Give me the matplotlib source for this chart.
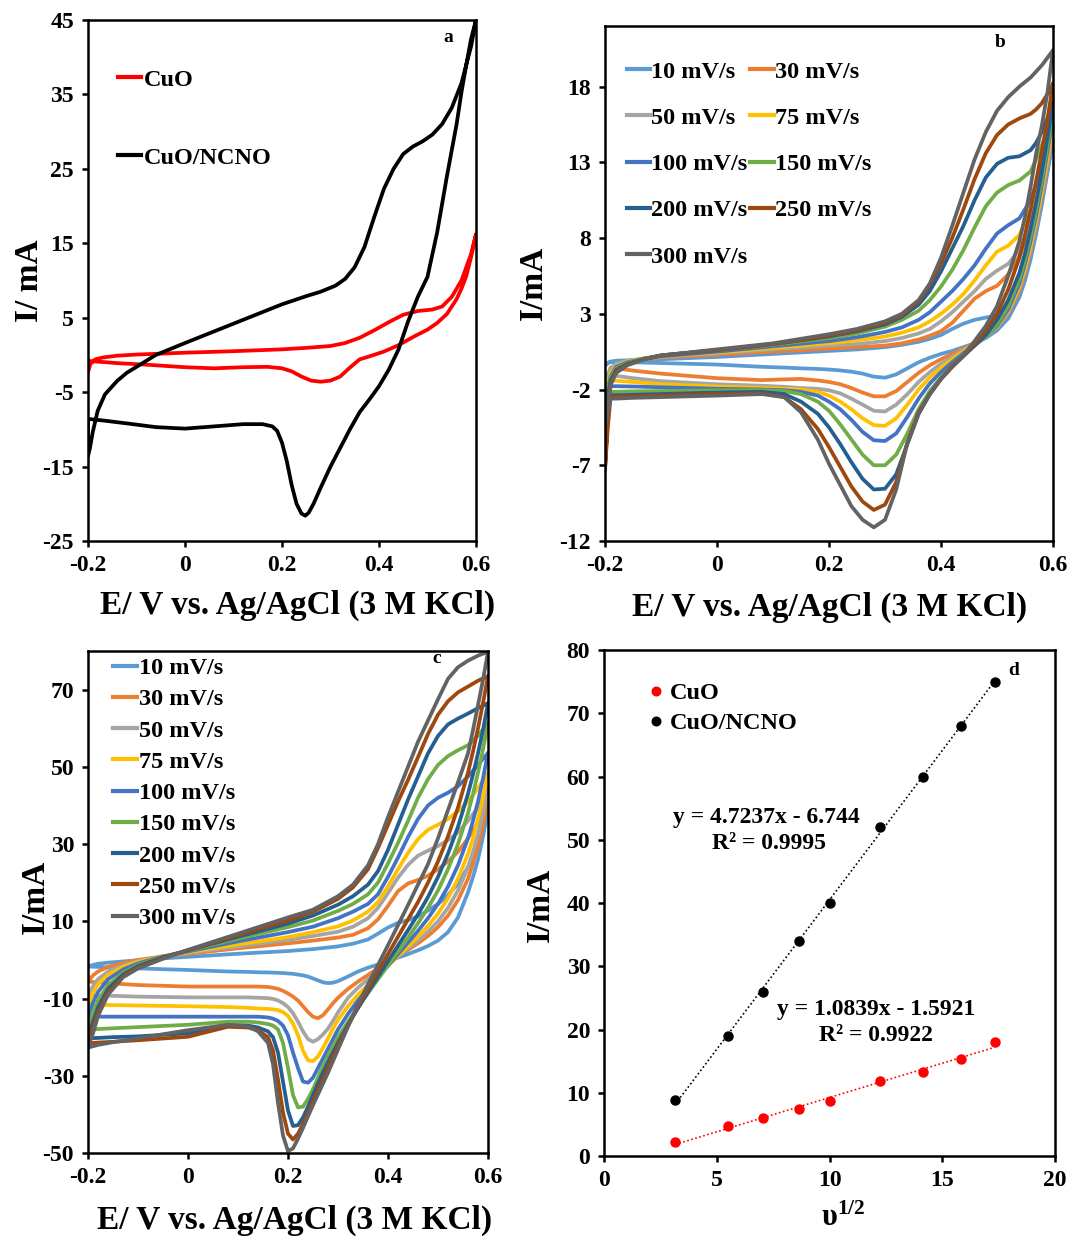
import matplotlib
matplotlib.use("Agg")
import matplotlib.pyplot as plt
from matplotlib.lines import Line2D

plt.rcParams["font.family"] = ["Liberation Serif", "DejaVu Serif"]
plt.rcParams["font.weight"] = "bold"
plt.rcParams["mathtext.fontset"] = "custom"
plt.rcParams["mathtext.rm"] = "Liberation Serif:bold"
plt.rcParams["mathtext.it"] = "Liberation Serif:bold"
plt.rcParams["mathtext.bf"] = "Liberation Serif:bold"

# ------------------------------------------------------------------
# (a) CuO vs CuO/NCNO cyclic voltammograms (E in V, I in mA)
# ------------------------------------------------------------------
ncno_fwd_E = [-0.2, -0.196, -0.19, -0.18, -0.165, -0.14, -0.12, -0.09, -0.06, 0.0,
              0.05, 0.1, 0.15, 0.2, 0.25, 0.28, 0.31, 0.33, 0.35, 0.37,
              0.39, 0.41, 0.43, 0.45, 0.47, 0.49, 0.51, 0.53, 0.55, 0.57, 0.59, 0.6]
ncno_fwd_I = [-13.6, -12.5, -10.3, -7.5, -5.3, -3.5, -2.4, -1.2, 0.0, 1.6,
              2.9, 4.2, 5.5, 6.8, 7.9, 8.5, 9.3, 10.2, 11.8, 14.5,
              18.5, 22.3, 25.0, 27.0, 28.0, 28.7, 29.6, 31.0, 33.2, 36.5, 41.5, 45.0]
ncno_rev_E = [0.6, 0.59, 0.58, 0.57, 0.56, 0.55, 0.54, 0.52, 0.5, 0.48,
              0.46, 0.44, 0.42, 0.4, 0.38, 0.36, 0.34, 0.32, 0.3, 0.28,
              0.265, 0.255, 0.248, 0.24, 0.23, 0.22, 0.21, 0.2, 0.19, 0.18,
              0.16, 0.12, 0.06, 0.0, -0.06, -0.12, -0.17, -0.2]
ncno_rev_I = [45.0, 42.5, 39.0, 35.3, 31.0, 27.5, 24.0, 16.5, 10.5, 7.8,
              4.5, 0.7, -2.0, -4.2, -6.0, -7.7, -10.0, -12.5, -15.0, -17.8,
              -20.0, -21.2, -21.6, -21.3, -20.0, -17.5, -14.3, -11.8, -10.2, -9.6,
              -9.3, -9.3, -9.6, -9.9, -9.7, -9.2, -8.8, -8.6]

cuo_fwd_E = [-0.2, -0.195, -0.185, -0.17, -0.14, -0.1, 0.0, 0.1, 0.2, 0.25,
             0.3, 0.33, 0.36, 0.39, 0.42, 0.45, 0.48, 0.51, 0.53, 0.55, 0.57, 0.59, 0.6]
cuo_fwd_I = [-2.3, -1.2, -0.6, -0.35, -0.1, 0.05, 0.3, 0.5, 0.75, 0.95,
             1.2, 1.6, 2.3, 3.3, 4.4, 5.4, 5.9, 6.1, 6.5, 7.8, 10.0, 13.6, 16.2]
cuo_rev_E = [0.6, 0.59, 0.58, 0.57, 0.56, 0.54, 0.52, 0.5, 0.47, 0.44,
             0.41, 0.38, 0.36, 0.34, 0.32, 0.3, 0.28, 0.26, 0.24, 0.22,
             0.2, 0.17, 0.12, 0.06, 0.0, -0.07, -0.14, -0.18, -0.2]
cuo_rev_I = [16.2, 13.2, 10.6, 8.9, 7.5, 5.5, 4.3, 3.4, 2.4, 1.3,
             0.45, -0.2, -0.6, -1.7, -2.9, -3.45, -3.6, -3.45, -2.9, -2.2,
             -1.8, -1.6, -1.65, -1.8, -1.65, -1.35, -1.1, -0.9, -0.8]

# ------------------------------------------------------------------
# Scan-rate series shared by (b) and (c)
# ------------------------------------------------------------------
rate_labels = ["10 mV/s", "30 mV/s", "50 mV/s", "75 mV/s", "100 mV/s",
               "150 mV/s", "200 mV/s", "250 mV/s", "300 mV/s"]
rate_colors = ["#5B9BD5", "#ED7D31", "#A5A5A5", "#FFC000", "#4472C4",
               "#70AD47", "#255E91", "#9E480E", "#636363"]

# (b) CuO at different scan rates
b_fwd_E = [-0.2, -0.195, -0.19, -0.18, -0.16, -0.13, -0.1, 0.0, 0.1, 0.2,
           0.25, 0.3, 0.33, 0.36, 0.38, 0.4, 0.42, 0.44, 0.46, 0.48,
           0.5, 0.52, 0.54, 0.56, 0.57, 0.58, 0.59, 0.6]
b_fwd_10 = [-0.4, -0.25, -0.15, -0.1, -0.07, -0.03, 0.0, 0.15, 0.35, 0.55,
            0.65, 0.8, 0.95, 1.15, 1.35, 1.6, 2.0, 2.35, 2.6, 2.75,
            2.9, 3.5, 5.0, 7.5, 9.0, 10.8, 12.6, 14.5]
b_fwd_30 = [-3.0, -1.5, -0.8, -0.4, -0.15, 0.0, 0.1, 0.3, 0.5, 0.7,
            0.8, 0.9, 1.05, 1.3, 1.55, 1.85, 2.4, 3.2, 4.0, 4.5,
            4.85, 5.6, 6.8, 8.7, 10.0, 11.5, 13.2, 15.0]
b_fwd_50 = [-1.8, -1.0, -0.6, -0.3, -0.1, 0.05, 0.15, 0.4, 0.65, 0.9,
            1.0, 1.2, 1.4, 1.7, 2.0, 2.5, 3.1, 3.8, 4.5, 5.3,
            5.85, 6.3, 7.2, 9.0, 10.3, 11.8, 13.5, 15.3]
b_fwd_75 = [-3.0, -1.6, -0.9, -0.45, -0.15, 0.05, 0.2, 0.45, 0.75, 1.05,
            1.25, 1.5, 1.75, 2.1, 2.5, 3.0, 3.6, 4.3, 5.2, 6.2,
            7.1, 7.5, 8.2, 9.8, 11.0, 12.4, 14.0, 15.6]
b_fwd_100 = [-4.0, -2.0, -1.1, -0.5, -0.2, 0.05, 0.2, 0.5, 0.85, 1.2,
             1.45, 1.8, 2.1, 2.6, 3.1, 3.8, 4.5, 5.3, 6.2, 7.3,
             8.3, 8.85, 9.3, 10.5, 11.6, 12.9, 14.4, 16.0]
b_fwd_150 = [-3.5, -2.0, -1.2, -0.6, -0.25, 0.05, 0.25, 0.6, 0.95, 1.4,
             1.7, 2.15, 2.6, 3.2, 3.9, 4.8, 5.9, 7.2, 8.7, 10.1,
             11.0, 11.5, 11.8, 12.4, 13.2, 14.1, 15.2, 16.4]
b_fwd_200 = [-4.5, -2.5, -1.4, -0.7, -0.3, 0.0, 0.25, 0.6, 1.0, 1.5,
             1.85, 2.3, 2.8, 3.6, 4.5, 5.8, 7.3, 8.8, 10.5, 12.0,
             12.9, 13.3, 13.4, 13.8, 14.3, 15.0, 15.9, 17.0]
b_fwd_250 = [-7.3, -3.5, -1.6, -0.8, -0.35, 0.0, 0.25, 0.6, 1.0, 1.55,
             1.9, 2.4, 2.9, 3.8, 4.9, 6.3, 8.0, 9.9, 11.9, 13.6,
             14.8, 15.5, 15.9, 16.2, 16.5, 16.9, 17.5, 18.2]
b_fwd_300 = [-4.5, -2.8, -1.7, -0.9, -0.4, 0.0, 0.25, 0.65, 1.05, 1.65,
             2.0, 2.5, 3.0, 3.9, 5.0, 6.7, 8.8, 11.0, 13.2, 15.0,
             16.4, 17.3, 18.0, 18.6, 19.0, 19.4, 19.9, 20.4]

b_rev_E = [0.6, 0.59, 0.58, 0.57, 0.56, 0.55, 0.54, 0.52, 0.5, 0.48,
           0.46, 0.44, 0.42, 0.4, 0.38, 0.36, 0.34, 0.32, 0.3, 0.28,
           0.26, 0.24, 0.22, 0.2, 0.18, 0.15, 0.12, 0.08, 0.0, -0.1,
           -0.15, -0.18, -0.19, -0.195, -0.2]
b_rev_10 = [14.5, 12.3, 10.2, 8.3, 6.6, 5.2, 4.1, 2.7, 1.9, 1.4,
            1.05, 0.8, 0.55, 0.35, 0.1, -0.2, -0.6, -1.0, -1.22, -1.15,
            -0.95, -0.82, -0.74, -0.68, -0.64, -0.6, -0.55, -0.5, -0.35, -0.25,
            -0.2, -0.18, -0.18, -0.25, -0.4]
b_rev_30 = [15.0, 12.8, 10.7, 8.8, 7.1, 5.7, 4.5, 3.0, 2.1, 1.5,
            1.05, 0.7, 0.35, 0.0, -0.4, -0.9, -1.5, -2.1, -2.45, -2.45,
            -2.2, -1.9, -1.65, -1.5, -1.4, -1.3, -1.33, -1.38, -1.25, -0.95,
            -0.75, -0.6, -0.55, -1.5, -3.0]
b_rev_50 = [15.3, 13.0, 10.9, 9.0, 7.3, 5.9, 4.7, 3.1, 2.1, 1.5,
            1.0, 0.6, 0.15, -0.3, -0.85, -1.5, -2.3, -3.0, -3.45, -3.4,
            -3.0, -2.6, -2.25, -2.05, -1.95, -1.9, -1.82, -1.75, -1.65, -1.45,
            -1.25, -1.1, -1.05, -1.5, -1.8]
b_rev_75 = [15.6, 13.3, 11.1, 9.2, 7.5, 6.0, 4.8, 3.2, 2.15, 1.5,
            1.0, 0.5, 0.0, -0.55, -1.2, -2.0, -3.0, -3.9, -4.4, -4.35,
            -3.9, -3.3, -2.8, -2.4, -2.15, -2.0, -1.95, -1.9, -1.8, -1.65,
            -1.5, -1.42, -1.4, -2.2, -3.0]
b_rev_100 = [16.0, 13.7, 11.5, 9.5, 7.8, 6.3, 5.0, 3.3, 2.2, 1.5,
             0.95, 0.4, -0.2, -0.85, -1.6, -2.6, -3.8, -4.9, -5.4, -5.35,
             -4.8, -4.0, -3.3, -2.8, -2.4, -2.15, -2.05, -2.0, -1.95, -1.85,
             -1.8, -1.78, -1.78, -2.8, -4.0]
b_rev_150 = [16.4, 14.1, 11.9, 9.9, 8.1, 6.6, 5.3, 3.5, 2.3, 1.5,
             0.9, 0.3, -0.4, -1.2, -2.1, -3.3, -4.9, -6.3, -7.0, -7.0,
             -6.3, -5.3, -4.3, -3.4, -2.8, -2.3, -2.1, -2.05, -2.05, -2.1,
             -2.12, -2.15, -2.15, -2.8, -3.5]
b_rev_200 = [17.0, 14.6, 12.4, 10.4, 8.6, 7.0, 5.7, 3.9, 2.6, 1.6,
             0.9, 0.2, -0.5, -1.3, -2.3, -3.6, -5.6, -7.6, -8.55, -8.6,
             -7.9, -6.8, -5.6, -4.5, -3.6, -2.8, -2.3, -2.15, -2.2, -2.3,
             -2.35, -2.37, -2.37, -3.3, -4.5]
b_rev_250 = [18.2, 15.8, 13.7, 11.8, 9.9, 8.2, 6.7, 4.6, 3.0, 1.9,
             1.0, 0.25, -0.5, -1.3, -2.3, -3.5, -5.5, -8.1, -9.6, -9.95,
             -9.4, -8.4, -7.1, -5.8, -4.6, -3.3, -2.5, -2.25, -2.3, -2.4,
             -2.45, -2.48, -2.5, -4.5, -7.3]
b_rev_300 = [20.4, 17.6, 15.4, 13.6, 11.4, 9.4, 7.8, 5.5, 3.5, 2.2,
             1.2, 0.25, -0.4, -1.3, -2.3, -3.6, -5.5, -8.6, -10.6, -11.1,
             -10.6, -9.7, -8.3, -6.9, -5.3, -3.5, -2.5, -2.3, -2.4, -2.5,
             -2.55, -2.6, -2.6, -3.5, -4.5]

# (c) CuO/NCNO at different scan rates
c_fwd_E = [-0.2, -0.19, -0.18, -0.16, -0.13, -0.1, -0.05, 0.0, 0.1, 0.2,
           0.25, 0.3, 0.33, 0.36, 0.38, 0.4, 0.42, 0.44, 0.46, 0.48,
           0.5, 0.52, 0.54, 0.56, 0.58, 0.6]
c_fwd_10 = [-1.7, -1.3, -1.0, -0.7, -0.4, -0.1, 0.4, 0.8, 1.6, 2.3,
            2.8, 3.5, 4.2, 5.3, 6.8, 8.4, 9.6, 10.3, 11.3, 12.8,
            14.5, 16.8, 19.8, 24.0, 30.0, 39.0]
c_fwd_30 = [-5.6, -4.0, -3.0, -1.8, -0.8, 0.0, 0.9, 1.6, 3.0, 4.3,
            5.0, 5.8, 6.5, 8.2, 10.5, 14.0, 17.8, 19.8, 20.7, 21.8,
            23.5, 25.5, 28.0, 31.5, 35.5, 41.5]
c_fwd_50 = [-9.1, -6.8, -5.0, -3.0, -1.4, -0.3, 0.9, 1.8, 3.5, 5.2,
            6.2, 7.3, 8.6, 10.8, 13.5, 17.3, 21.3, 24.6, 27.0, 28.3,
            29.5, 31.0, 33.0, 36.0, 39.5, 44.5]
c_fwd_75 = [-11.6, -8.5, -6.3, -3.8, -1.8, -0.5, 0.9, 2.0, 4.0, 5.9,
            7.2, 8.7, 10.2, 12.5, 15.0, 19.0, 23.5, 27.7, 31.3, 33.7,
            35.0, 36.5, 38.5, 41.0, 44.5, 48.4]
c_fwd_100 = [-14.7, -11.0, -8.3, -5.0, -2.5, -0.9, 0.9, 2.2, 4.8, 7.2,
             8.6, 10.8, 12.5, 14.5, 17.0, 21.5, 26.5, 31.8, 36.5, 40.0,
             42.0, 43.3, 45.0, 47.5, 50.5, 53.6]
c_fwd_150 = [-18.1, -13.8, -10.5, -6.5, -3.3, -1.3, 0.8, 2.4, 5.5, 8.5,
             10.2, 12.7, 14.5, 17.0, 20.0, 25.0, 30.3, 36.0, 42.0, 46.8,
             50.5, 52.8, 54.3, 55.6, 58.0, 61.4]
c_fwd_200 = [-20.3, -16.0, -12.3, -7.5, -3.8, -1.6, 0.7, 2.5, 6.0, 9.4,
             11.5, 14.3, 16.5, 19.5, 23.0, 28.5, 35.0, 41.5, 47.5, 53.5,
             58.0, 61.0, 62.5, 63.8, 65.2, 66.5]
c_fwd_250 = [-21.6, -17.5, -13.5, -8.3, -4.2, -1.9, 0.5, 2.5, 6.4, 10.2,
             12.5, 15.8, 18.8, 23.5, 29.0, 35.0, 41.0, 46.6, 52.5, 58.5,
             63.5, 67.0, 69.3, 70.8, 72.3, 73.5]
c_fwd_300 = [-22.7, -19.0, -14.5, -9.0, -4.5, -2.2, 0.3, 2.6, 6.8, 11.0,
             13.0, 16.5, 19.5, 24.5, 30.0, 37.0, 43.5, 50.0, 56.5, 62.0,
             67.5, 72.8, 75.8, 77.5, 78.8, 79.8]

c_rev_E = [0.6, 0.59, 0.58, 0.57, 0.56, 0.54, 0.52, 0.5, 0.48, 0.46,
           0.44, 0.42, 0.4, 0.38, 0.36, 0.34, 0.32, 0.3, 0.29, 0.28,
           0.27, 0.26, 0.25, 0.24, 0.23, 0.22, 0.21, 0.2, 0.19, 0.18,
           0.17, 0.16, 0.14, 0.12, 0.08, 0.0, -0.1, -0.15, -0.18, -0.2]
c_rev_10 = [39.0, 32.0, 26.0, 21.5, 17.5, 11.0, 7.2, 5.0, 3.6, 2.5,
            1.5, 0.6, -0.3, -1.2, -2.0, -3.0, -4.3, -5.5, -5.9, -6.0,
            -5.8, -5.3, -4.8, -4.3, -4.0, -3.8, -3.6, -3.5, -3.4, -3.35,
            -3.3, -3.25, -3.2, -3.1, -3.0, -2.6, -2.2, -2.0, -1.8, -1.7]
c_rev_30 = [41.5, 35.0, 29.5, 25.0, 21.0, 15.5, 11.5, 8.5, 6.2, 4.3,
            2.6, 1.0, -0.6, -2.2, -3.9, -5.6, -7.5, -9.8, -11.2, -12.8,
            -14.3, -15.1, -14.7, -13.5, -12.0, -10.5, -9.5, -8.7, -8.0, -7.5,
            -7.2, -7.0, -6.9, -6.9, -6.9, -6.9, -6.5, -6.1, -5.8, -5.6]
c_rev_50 = [44.5, 38.0, 32.5, 28.0, 24.0, 18.0, 13.5, 10.0, 7.3, 5.0,
            3.0, 1.0, -1.0, -3.0, -5.0, -7.2, -9.8, -13.6, -15.8, -17.8,
            -19.3, -20.5, -21.2, -20.5, -18.5, -16.0, -13.8, -12.2, -11.2, -10.5,
            -10.1, -9.9, -9.8, -9.7, -9.7, -9.7, -9.5, -9.3, -9.2, -9.1]
c_rev_75 = [48.4, 42.0, 36.5, 31.5, 27.5, 21.0, 16.0, 12.0, 8.8, 6.0,
            3.5, 1.0, -1.5, -4.0, -6.5, -9.0, -12.0, -15.5, -17.8, -20.3,
            -22.8, -25.0, -26.2, -26.0, -23.5, -19.5, -16.5, -14.5, -13.5, -13.0,
            -12.8, -12.7, -12.6, -12.4, -12.2, -12.0, -11.8, -11.7, -11.6, -11.6]
c_rev_100 = [53.6, 47.0, 41.0, 36.0, 31.5, 24.5, 19.0, 14.5, 10.8, 7.5,
             4.5, 1.5, -1.5, -4.5, -7.5, -10.5, -14.0, -18.0, -20.5, -23.0,
             -25.5, -28.0, -30.5, -31.8, -31.5, -28.0, -24.0, -19.5, -17.0, -15.8,
             -15.2, -14.9, -14.7, -14.7, -14.7, -14.7, -14.7, -14.7, -14.7, -14.7]
c_rev_150 = [61.4, 54.5, 48.5, 43.0, 38.0, 30.0, 23.5, 18.0, 13.5, 9.5,
             5.8, 2.2, -1.4, -5.0, -8.6, -12.2, -16.0, -20.0, -22.5, -25.0,
             -27.5, -30.5, -33.5, -36.0, -38.0, -38.2, -35.0, -28.0, -21.5, -18.0,
             -17.0, -16.6, -16.2, -16.0, -16.0, -16.8, -17.4, -17.7, -17.9, -18.1]
c_rev_200 = [66.5, 59.5, 53.5, 48.0, 43.0, 34.5, 27.5, 21.5, 16.3, 11.8,
             7.7, 3.7, -0.3, -4.3, -8.3, -12.5, -16.8, -21.5, -24.0, -26.5,
             -29.2, -32.0, -35.0, -38.0, -40.8, -42.8, -43.0, -39.0, -31.5, -24.0,
             -20.0, -18.5, -17.5, -17.0, -16.9, -19.0, -19.8, -20.0, -20.2, -20.3]
c_rev_250 = [73.5, 66.5, 60.0, 54.0, 48.5, 39.5, 32.0, 25.5, 20.0, 15.0,
             10.5, 6.0, 1.5, -3.0, -7.5, -12.0, -17.0, -22.3, -25.0, -27.8,
             -30.7, -33.6, -36.6, -39.6, -42.5, -45.0, -46.5, -45.0, -39.5, -31.0,
             -23.5, -20.0, -18.2, -17.5, -17.3, -19.9, -20.8, -21.2, -21.4, -21.6]
c_rev_300 = [79.8, 72.5, 66.0, 59.5, 53.5, 46.0, 38.8, 31.5, 24.8, 19.5,
             14.2, 9.0, 3.8, -1.3, -6.3, -11.5, -17.3, -23.2, -26.2, -29.2,
             -32.0, -34.8, -37.6, -40.5, -43.5, -46.3, -48.8, -49.5, -45.5, -37.0,
             -27.0, -21.5, -18.5, -17.2, -16.8, -18.2, -20.3, -21.3, -22.0, -22.7]

# (d) anodic peak current vs square root of scan rate
d_sqrt_rate = [3.16, 5.48, 7.07, 8.66, 10.0, 12.25, 14.14, 15.81, 17.32]
d_ncno = [8.8, 19.0, 26.0, 34.0, 40.0, 52.0, 60.0, 68.0, 75.0]
d_cuo = [2.2, 4.7, 6.0, 7.4, 8.7, 11.8, 13.3, 15.3, 18.0]
ncno_slope, ncno_intercept = 4.7237, -6.744
cuo_slope, cuo_intercept = 1.0839, -1.5921

# ------------------------------------------------------------------
W, H = 1072, 1237
fig = plt.figure(figsize=(W / 100, H / 100), dpi=100)

TICK_FS = 17
LABEL_FS = 24
LEG_FS = 17.5
LW = 2.7


def axes_px(left, top, right, bottom):
    return fig.add_axes([left / W, 1 - bottom / H, (right - left) / W, (bottom - top) / H])


def fig_label(x, y, s, rotation=0, size=LABEL_FS):
    fig.text(x / W, 1 - y / H, s, fontsize=size, fontweight="bold",
             rotation=rotation, ha="center", va="center")


def frame(ax, xlim, ylim, xt, yt):
    ax.set_xlim(*xlim)
    ax.set_ylim(*ylim)
    ax.set_xticks(xt)
    ax.set_xticklabels([("%g" % v) for v in xt])
    ax.set_yticks(yt)
    ax.set_yticklabels([("%g" % v) for v in yt])
    for sp in ax.spines.values():
        sp.set_linewidth(1.8)
    ax.tick_params(direction="out", length=4, width=1.8, labelsize=TICK_FS)
    ax.tick_params(axis="x", pad=6)
    ax.tick_params(axis="y", pad=6)


def cv(ax, fwd_E, fwd_I, rev_E, rev_I, color):
    ax.plot(rev_E + fwd_E, rev_I + fwd_I, color=color, lw=LW,
            solid_joinstyle="round", solid_capstyle="round")


E_TICKS = [-0.2, 0, 0.2, 0.4, 0.6]
E_LABEL = "E/ V vs. Ag/AgCl (3 M KCl)"

# ---------------- panel a ----------------
ax_a = axes_px(88, 20, 476, 541)
frame(ax_a, (-0.2, 0.6), (-25, 45), E_TICKS, [-25, -15, -5, 5, 15, 25, 35, 45])
cv(ax_a, cuo_fwd_E, cuo_fwd_I, cuo_rev_E, cuo_rev_I, "#FF0000")
cv(ax_a, ncno_fwd_E, ncno_fwd_I, ncno_rev_E, ncno_rev_I, "#000000")
ax_a.legend([Line2D([], [], color="#FF0000", lw=3), Line2D([], [], color="#000000", lw=3)],
            ["CuO", "CuO/NCNO"], loc="upper left", bbox_to_anchor=(0.077, 0.906),
            frameon=False, fontsize=LEG_FS, handlelength=0.95, handletextpad=0.1,
            labelspacing=2.3, borderpad=0, borderaxespad=0)
ax_a.text(0.928, 0.967, "a", transform=ax_a.transAxes, fontsize=14,
          fontweight="bold", ha="center", va="center")
fig_label(298, 605, E_LABEL)
fig_label(30, 281, "I/ mA", rotation=90)

# ---------------- panel b ----------------
ax_b = axes_px(605, 26, 1053, 541)
frame(ax_b, (-0.2, 0.6), (-12, 22), E_TICKS, [-12, -7, -2, 3, 8, 13, 18])
b_fwd = [b_fwd_10, b_fwd_30, b_fwd_50, b_fwd_75, b_fwd_100,
         b_fwd_150, b_fwd_200, b_fwd_250, b_fwd_300]
b_rev = [b_rev_10, b_rev_30, b_rev_50, b_rev_75, b_rev_100,
         b_rev_150, b_rev_200, b_rev_250, b_rev_300]
for fI, rI, col in zip(b_fwd, b_rev, rate_colors):
    cv(ax_b, b_fwd_E, fI, b_rev_E, rI, col)
order = [0, 2, 4, 6, 8, 1, 3, 5, 7]
ax_b.legend([Line2D([], [], color=rate_colors[i], lw=3) for i in order],
            [rate_labels[i] for i in order], ncol=2, loc="upper left",
            bbox_to_anchor=(0.049, 0.933), frameon=False, fontsize=LEG_FS,
            handlelength=0.95, handletextpad=0.05, labelspacing=1.0,
            columnspacing=0.12, borderpad=0, borderaxespad=0)
ax_b.text(0.882, 0.967, "b", transform=ax_b.transAxes, fontsize=14,
          fontweight="bold", ha="center", va="center")
fig_label(830, 607, E_LABEL)
fig_label(533, 283, "I/mA", rotation=90)

# ---------------- panel c ----------------
ax_c = axes_px(88, 651, 488, 1153)
frame(ax_c, (-0.2, 0.6), (-50, 80), E_TICKS, [-50, -30, -10, 10, 30, 50, 70])
c_fwd = [c_fwd_10, c_fwd_30, c_fwd_50, c_fwd_75, c_fwd_100,
         c_fwd_150, c_fwd_200, c_fwd_250, c_fwd_300]
c_rev = [c_rev_10, c_rev_30, c_rev_50, c_rev_75, c_rev_100,
         c_rev_150, c_rev_200, c_rev_250, c_rev_300]
for fI, rI, col in zip(c_fwd, c_rev, rate_colors):
    cv(ax_c, c_fwd_E, fI, c_rev_E, rI, col)
ax_c.legend([Line2D([], [], color=c, lw=3) for c in rate_colors], rate_labels,
            loc="upper left", bbox_to_anchor=(0.0625, 0.988), frameon=False,
            fontsize=LEG_FS, handlelength=1.0, handletextpad=0.05,
            labelspacing=0.38, borderpad=0, borderaxespad=0)
ax_c.text(0.8725, 0.985, "c", transform=ax_c.transAxes, fontsize=14,
          fontweight="bold", ha="center", va="center")
fig_label(295, 1220, E_LABEL)
fig_label(35, 897, "I/mA", rotation=90)

# ---------------- panel d ----------------
ax_d = axes_px(604, 650, 1055, 1156)
frame(ax_d, (0, 20), (0, 80), [0, 5, 10, 15, 20], [0, 10, 20, 30, 40, 50, 60, 70, 80])
x_fit = [d_sqrt_rate[0], d_sqrt_rate[-1]]
ax_d.plot(x_fit, [ncno_slope * x + ncno_intercept for x in x_fit], color="#000000",
          lw=1.2, ls=(0, (1, 1.5)))
ax_d.plot(x_fit, [cuo_slope * x + cuo_intercept for x in x_fit], color="#FF0000",
          lw=1.2, ls=(0, (1, 1.5)))
ax_d.plot(d_sqrt_rate, d_cuo, "o", color="#FF0000", ms=6.5, label="CuO")
ax_d.plot(d_sqrt_rate, d_ncno, "o", color="#000000", ms=6.5, label="CuO/NCNO")
ax_d.legend(loc="upper left", bbox_to_anchor=(0.102, 0.936), frameon=False,
            fontsize=LEG_FS, handlelength=0.5, handletextpad=0.3,
            labelspacing=0.33, borderpad=0, borderaxespad=0, markerscale=0.95)
EQ_FS = 17
ax_d.text(7.2, 53.5, "y = %.4fx - %.3f" % (ncno_slope, -ncno_intercept),
          fontsize=EQ_FS, fontweight="bold", ha="center", va="center")
ax_d.text(7.3, 49.4, "R² = 0.9995", fontsize=EQ_FS, fontweight="bold", ha="center", va="center")
ax_d.text(12.05, 23.2, "y = %.4fx - %.4f" % (cuo_slope, -cuo_intercept),
          fontsize=EQ_FS, fontweight="bold", ha="center", va="center")
ax_d.text(12.04, 19.1, "R² = 0.9922", fontsize=EQ_FS, fontweight="bold", ha="center", va="center")
ax_d.text(18.16, 76.8, "d", fontsize=14, fontweight="bold", ha="center", va="center")
fig_label(843, 1218, "υ$^{1/2}$", size=22)
fig_label(540, 905, "I/mA", rotation=90)

fig.savefig("out.png", dpi=100)
